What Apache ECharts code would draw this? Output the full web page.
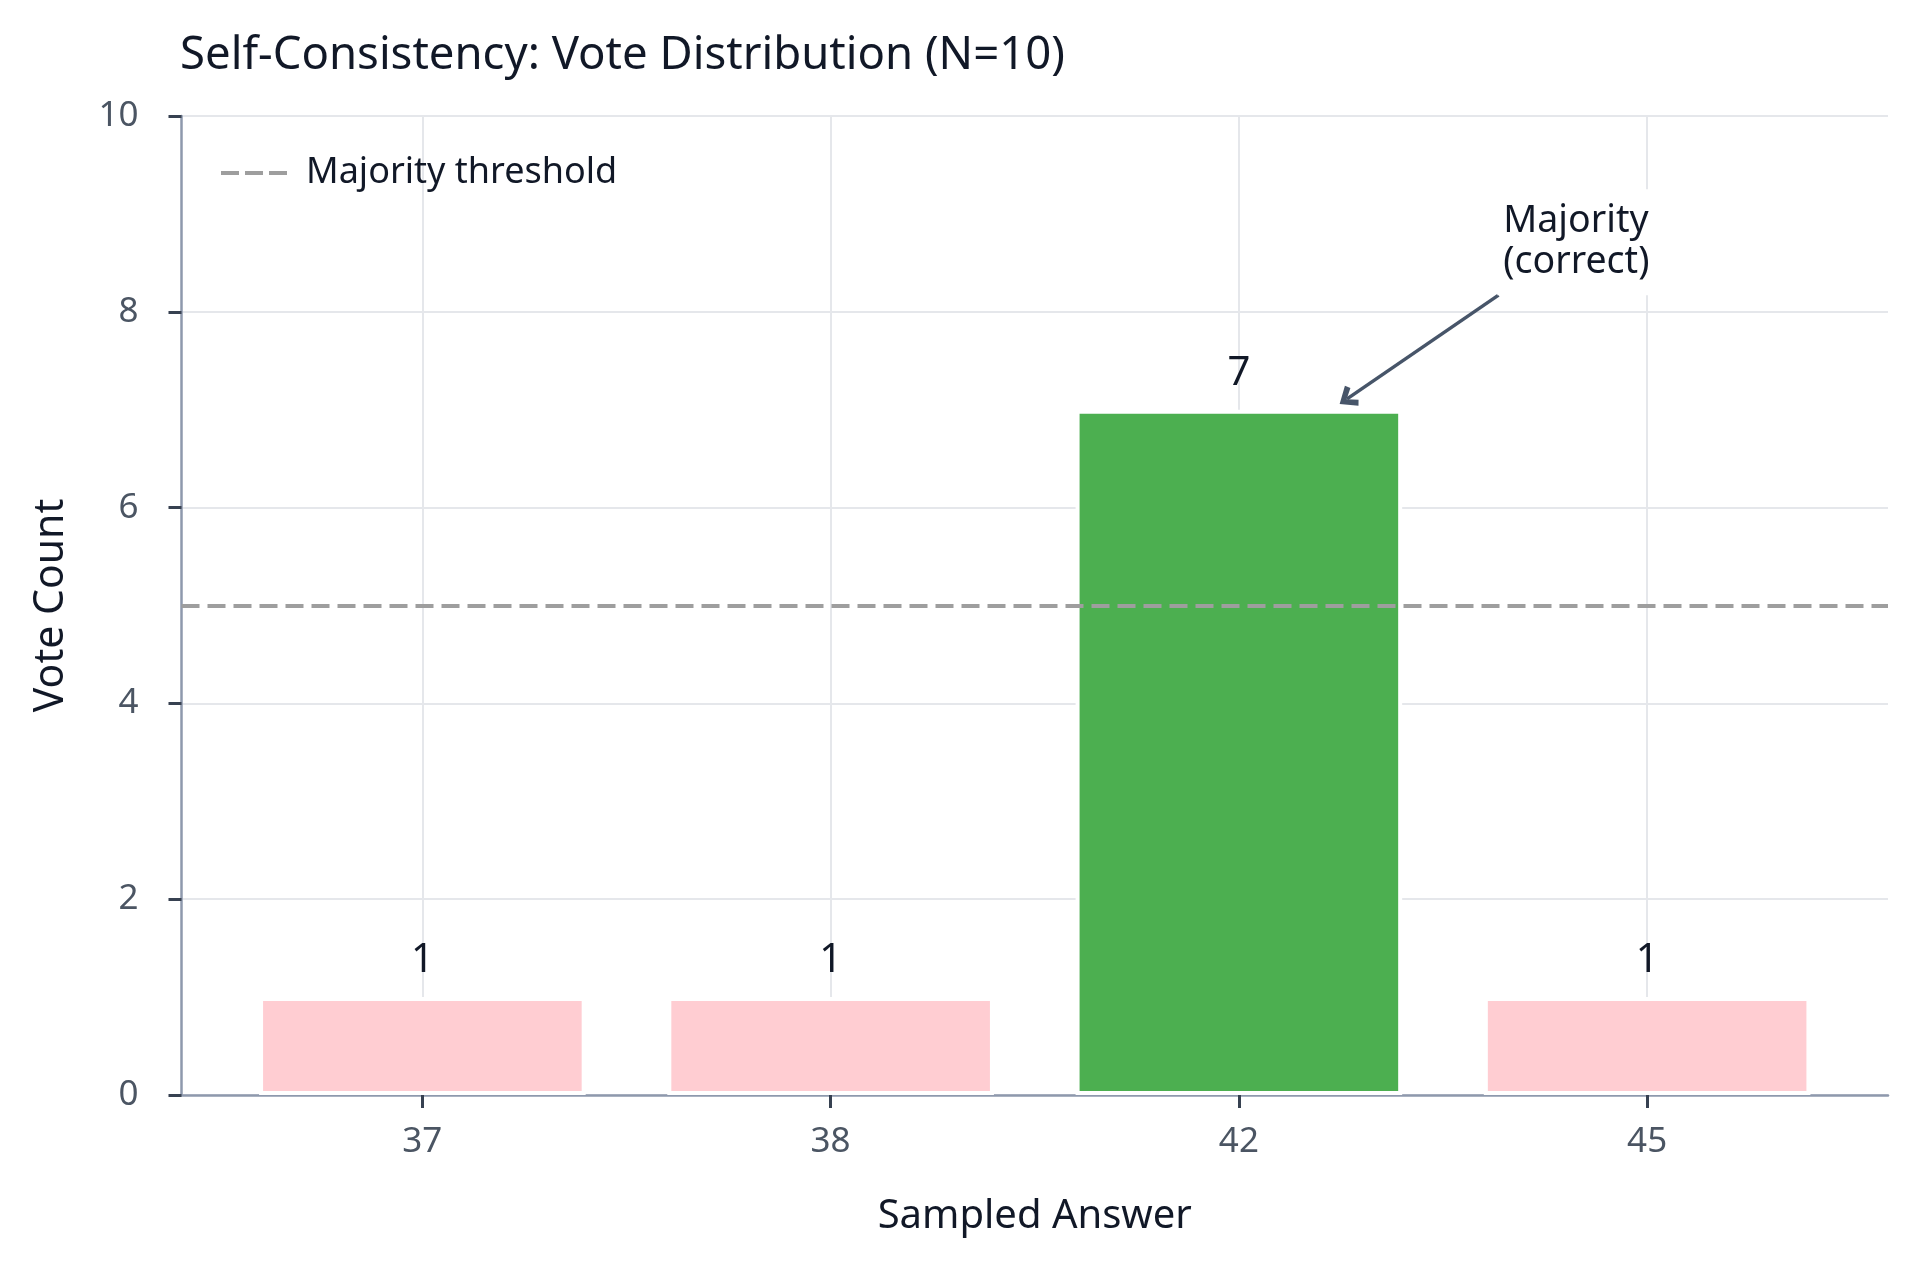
<!DOCTYPE html>
<html>
<head>
<meta charset="utf-8">
<script src="https://cdn.jsdelivr.net/npm/echarts@6/dist/echarts.min.js"></script>
<style>
  html, body { margin: 0; padding: 0; background: #fff; }
  #chart { width: 1920px; height: 1269px; }
</style>
</head>
<body>
<div id="chart"></div>
<script>
// data
var answers = ['37', '38', '42', '45'];
var votes = [1, 1, 7, 1];
var isMajority = [false, false, true, false];
var threshold = [5];
var yTicks = [0, 2, 4, 6, 8, 10];
var xTicks = [0, 1, 2, 3];
var xRange = [-0.59, 3.59];
// annotation anchor (data coords)
var noteText = ['Majority', '(correct)'];
var notePos = [2.633, 8.71];
var arrowFrom = [2.636, 8.17];
var arrowTo = [2.265, 7.11];

var font = '"Noto Sans", "DejaVu Sans", sans-serif';
var ink = '#111827';
var tickInk = '#4b5563';
var tickMark = '#374151';
var spine = '#8e99ad';
var dashGray = '#9e9e9e';

var barData = answers.map(function (a, i) {
    return {
        value: [xTicks[i], votes[i]],
        itemStyle: { color: isMajority[i] ? '#4caf50' : '#ffcdd2' }
    };
});

var myChart = echarts.init(document.getElementById('chart'));
var option = {
    backgroundColor: '#fff',
    animation: false,
    title: {
        text: 'Self-Consistency: Vote Distribution (N=10)',
        left: 175,
        top: 28,
        textStyle: { color: ink, fontSize: 45.5, fontWeight: 'normal', fontFamily: font }
    },
    legend: {
        data: [{
            name: 'Majority threshold',
            icon: 'path://M0,0 H18 V4 H0 Z M24,0 H42 V4 H24 Z M48,0 H66 V4 H48 Z'
        }],
        left: 221,
        top: 155,
        itemWidth: 66,
        itemHeight: 4,
        padding: 0,
        itemStyle: { color: dashGray },
        textStyle: { color: ink, fontSize: 36, fontFamily: font, padding: [0, 0, 0, 14] }
    },
    grid: { left: 181.5, right: 32, top: 116, bottom: 174, containLabel: false },
    xAxis: {
        type: 'value',
        min: xRange[0],
        max: xRange[1],
        name: 'Sampled Answer',
        nameLocation: 'middle',
        nameGap: 102,
        nameTextStyle: { color: ink, fontSize: 40, fontFamily: font },
        axisLine: { show: true, onZero: false, lineStyle: { color: spine, width: 2.5 } },
        axisTick: { show: true, length: 13, lineStyle: { color: tickMark, width: 3 }, customValues: xTicks },
        axisLabel: {
            customValues: xTicks,
            margin: 30,
            color: tickInk,
            fontSize: 35,
            fontFamily: font,
            formatter: function (v) { return answers[Math.round(v)]; }
        },
        splitLine: { show: true, lineStyle: { color: '#e5e7eb', width: 2 } }
    },
    yAxis: {
        type: 'value',
        min: yTicks[0],
        max: yTicks[yTicks.length - 1],
        interval: 2,
        name: 'Vote Count',
        nameLocation: 'middle',
        nameGap: 110,
        nameTextStyle: { color: ink, fontSize: 41, fontFamily: font },
        axisLine: { show: true, onZero: false, lineStyle: { color: spine, width: 2.5 } },
        axisTick: { show: true, length: 13, lineStyle: { color: tickMark, width: 3 } },
        axisLabel: { margin: 43, color: tickInk, fontSize: 35, fontFamily: font },
        splitLine: { show: true, lineStyle: { color: '#e5e7eb', width: 2 } }
    },
    series: [
        {
            type: 'bar',
            name: 'votes',
            barWidth: '80%',
            data: barData,
            itemStyle: { borderColor: '#fff', borderWidth: 4 },
            label: {
                show: true,
                position: 'top',
                distance: 16,
                color: ink,
                fontSize: 40,
                fontFamily: font,
                formatter: function (p) { return p.value[1]; }
            },
            markLine: {
                silent: true,
                symbol: ['none', 'path://M10,0 L20,13 L16,16 L10,7.5 L4,16 L0,13 Z'],
                symbolSize: [24, 18],
                label: { show: false },
                lineStyle: { color: '#475569', width: 3.5, type: 'solid' },
                data: [[{ coord: arrowFrom }, { coord: arrowTo }]]
            },
            markPoint: {
                silent: true,
                symbol: 'circle',
                symbolSize: 1,
                itemStyle: { color: 'rgba(0,0,0,0)' },
                label: {
                    show: true,
                    position: 'inside',
                    align: 'left',
                    verticalAlign: 'middle',
                    formatter: noteText.join('\n'),
                    color: ink,
                    fontSize: 37.5,
                    lineHeight: 41,
                    fontFamily: font,
                    backgroundColor: '#fff',
                    padding: [12, 6]
                },
                data: [{ coord: notePos }]
            }
        },
        {
            type: 'line',
            name: 'Majority threshold',
            data: [],
            symbol: 'none',
            lineStyle: { color: dashGray, width: 4, type: [18, 8] },
            itemStyle: { color: dashGray },
            markLine: {
                silent: true,
                symbol: ['none', 'none'],
                label: { show: false },
                lineStyle: { color: dashGray, width: 4, type: [18, 8] },
                data: [{ yAxis: threshold[0] }]
            }
        }
    ]
};
myChart.setOption(option);

window.addEventListener('resize', function () {
    myChart.resize();
});
</script>
</body>
</html>
